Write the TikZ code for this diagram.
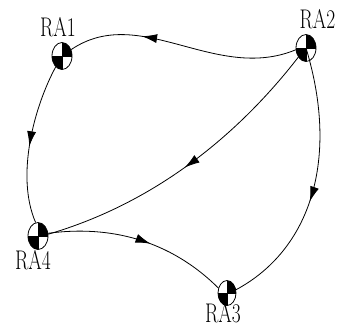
\documentclass[tikz,border=0pt]{standalone}
\usepackage{xcolor}
\usepackage{tikz}
\usetikzlibrary{shapes.geometric,arrows.meta,decorations.markings}

\begin{document}
\begin{tikzpicture}[
  x=1pt,y=-1pt,
  ra/.style={ellipse,draw,fill=white,inner sep=0pt,line width=0.8pt,
    minimum width=20pt,minimum height=27pt,
    path picture={
      \fill[black] (path picture bounding box.center) rectangle (path picture bounding box.north east);
      \fill[black] (path picture bounding box.center) rectangle (path picture bounding box.south west);
      \draw[line width=0.5pt] (path picture bounding box.west) -- (path picture bounding box.east);
      \draw[line width=0.5pt] (path picture bounding box.north) -- (path picture bounding box.south);
    }},
  lb/.style={inner sep=0pt,font=\fontsize{27}{27}\selectfont},
  ar/.style={line width=0.8pt,
    decoration={markings,mark=at position #1 with {\arrow{Latex[length=15pt,width=9pt]}}},
    postaction={decorate}}
]
\useasboundingbox (0,0) rectangle (339,325);

\node[ra] (ra1) at (62,56) {};
\node[ra] (ra2) at (306,48) {};
\node[ra,minimum width=18pt,minimum height=25pt] (ra3) at (227,293) {};
\node[ra] (ra4) at (38,236) {};

\node[lb] (lb1) at (58,27) {\scalebox{0.72}[1]{RA1}};
\node[lb] (lb2) at (317.5,19) {\scalebox{0.72}[1]{RA2}};
\node[lb] (lb3) at (223,313.5) {\scalebox{0.72}[1]{RA3}};
\node[lb] (lb4) at (33,260) {\scalebox{0.72}[1]{RA4}};

\draw[ar=0.68] (ra2.190) .. controls (215,83) and (140,3) .. (ra1.35);
\draw[ar=0.52] (ra1.-120) .. controls (35,105) and (15,175) .. (ra4.100);
\draw[ar=0.51] (ra2.-130) .. controls (238,135) and (155,203) .. (ra4.10);
\draw[ar=0.57] (ra2.center) .. controls (340,160) and (310,250) .. (ra3.20);
\draw[ar=0.56] (ra4.15) .. controls (110,225) and (170,240) .. (ra3.150);
\end{tikzpicture}
\end{document}
